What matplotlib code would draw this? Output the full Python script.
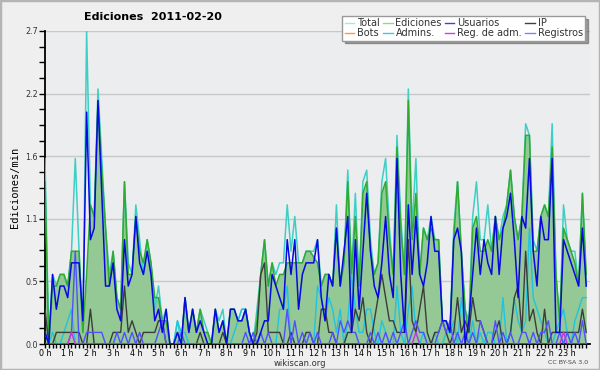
import numpy as np
import matplotlib
matplotlib.use("Agg")
import matplotlib.pyplot as plt
from matplotlib.lines import Line2D
from matplotlib.patches import Rectangle

# edits per minute, 10-minute bins (6 per hour, 144 per day)
total = [
    1.6, 0.0, 0.6, 0.5, 0.6, 0.6,  0.5, 0.8, 1.6, 0.8, 0.1, 2.7,
    1.2, 1.1, 2.2, 1.6, 1.0, 0.6,  0.8, 0.4, 0.3, 1.4, 0.7, 0.6,
    1.2, 0.9, 0.6, 0.9, 0.7, 0.3,  0.5, 0.2, 0.3, 0.0, 0.0, 0.2,
    0.0, 0.4, 0.1, 0.3, 0.1, 0.3,  0.2, 0.1, 0.0, 0.3, 0.2, 0.3,
    0.0, 0.3, 0.3, 0.2, 0.3, 0.3,  0.1, 0.0, 0.3, 0.6, 0.9, 0.5,
    0.7, 0.6, 0.7, 0.7, 1.2, 0.8,  1.1, 0.7, 0.7, 0.8, 0.8, 0.8,
    0.9, 0.5, 0.6, 0.6, 0.5, 1.2,  0.5, 0.7, 1.5, 0.6, 1.3, 0.5,
    1.4, 1.5, 0.9, 0.6, 0.7, 1.4,  1.6, 1.0, 0.6, 1.8, 1.1, 0.6,
    2.2, 1.0, 1.6, 0.6, 1.0, 0.9,  1.1, 0.9, 0.9, 0.2, 0.2, 0.1,
    1.0, 1.4, 0.8, 0.3, 0.2, 1.1,  1.4, 0.9, 0.9, 1.2, 0.8, 1.1,
    0.9, 1.1, 1.2, 1.5, 1.1, 0.9,  1.1, 1.9, 1.8, 0.9, 0.8, 1.1,
    1.2, 1.1, 1.9, 0.6, 0.2, 1.2,  0.9, 0.8, 0.8, 0.5, 1.3, 0.5,
]
ediciones = [
    1.4, 0.0, 0.5, 0.5, 0.6, 0.6,  0.5, 0.8, 0.8, 0.8, 0.1, 0.6,
    1.2, 1.1, 2.1, 1.5, 1.0, 0.5,  0.8, 0.4, 0.3, 1.4, 0.6, 0.6,
    1.1, 0.8, 0.7, 0.9, 0.7, 0.4,  0.4, 0.2, 0.2, 0.0, 0.0, 0.1,
    0.0, 0.4, 0.1, 0.3, 0.1, 0.3,  0.1, 0.1, 0.0, 0.3, 0.1, 0.2,
    0.0, 0.3, 0.3, 0.2, 0.2, 0.3,  0.1, 0.0, 0.2, 0.6, 0.9, 0.5,
    0.7, 0.5, 0.6, 0.6, 0.7, 0.7,  0.7, 0.7, 0.7, 0.8, 0.8, 0.75,
    0.7, 0.5, 0.6, 0.6, 0.5, 1.0,  0.5, 0.7, 1.4, 0.6, 1.1, 0.5,
    1.3, 1.4, 0.8, 0.6, 0.7, 1.3,  1.4, 0.9, 0.6, 1.7, 1.0, 0.6,
    2.1, 0.9, 1.3, 0.6, 1.0, 0.9,  1.0, 0.9, 0.9, 0.2, 0.2, 0.1,
    0.9, 1.4, 0.8, 0.3, 0.1, 1.0,  1.1, 0.8, 0.8, 0.9, 0.8, 1.1,
    0.9, 1.0, 1.2, 1.5, 1.1, 0.9,  1.1, 1.8, 1.8, 0.8, 0.8, 1.1,
    1.2, 1.1, 1.7, 0.6, 0.2, 1.0,  0.9, 0.8, 0.7, 0.5, 1.3, 0.6,
]
usuarios = [
    0.1, 0.0, 0.6, 0.3, 0.5, 0.5,  0.4, 0.7, 0.7, 0.7, 0.2, 2.0,
    0.9, 1.0, 2.1, 1.3, 0.5, 0.5,  0.7, 0.3, 0.2, 0.9, 0.5, 0.6,
    1.1, 0.7, 0.6, 0.8, 0.6, 0.2,  0.3, 0.1, 0.3, 0.0, 0.0, 0.1,
    0.0, 0.4, 0.1, 0.3, 0.1, 0.2,  0.1, 0.0, 0.0, 0.3, 0.1, 0.2,
    0.0, 0.3, 0.3, 0.2, 0.2, 0.3,  0.1, 0.0, 0.0, 0.1, 0.2, 0.2,
    0.6, 0.5, 0.4, 0.3, 0.9, 0.6,  0.9, 0.3, 0.6, 0.7, 0.7, 0.7,
    0.9, 0.4, 0.2, 0.6, 0.5, 1.0,  0.5, 0.8, 1.1, 0.1, 0.9, 0.3,
    0.8, 1.3, 0.8, 0.5, 0.4, 0.7,  1.1, 0.6, 0.4, 1.6, 0.6, 0.1,
    1.2, 0.6, 1.1, 0.6, 0.5, 0.7,  1.1, 0.8, 0.8, 0.2, 0.2, 0.1,
    0.9, 1.0, 0.8, 0.0, 0.2, 0.6,  1.0, 0.6, 0.9, 0.7, 0.6, 1.1,
    0.6, 1.0, 1.1, 1.3, 0.9, 0.4,  1.1, 1.0, 1.6, 0.8, 0.5, 1.1,
    0.9, 0.9, 1.6, 0.1, 0.1, 0.9,  0.8, 0.7, 0.6, 0.5, 1.0, 0.5,
]
ip = [
    0.3, 0.0, 0.0, 0.1, 0.1, 0.1,  0.1, 0.1, 0.1, 0.1, 0.0, 0.0,
    0.3, 0.0, 0.0, 0.0, 0.0, 0.0,  0.1, 0.1, 0.1, 0.5, 0.1, 0.2,
    0.1, 0.0, 0.1, 0.1, 0.1, 0.1,  0.2, 0.2, 0.0, 0.0, 0.0, 0.0,
    0.0, 0.0, 0.0, 0.0, 0.0, 0.1,  0.0, 0.0, 0.0, 0.0, 0.0, 0.1,
    0.0, 0.0, 0.0, 0.0, 0.0, 0.0,  0.0, 0.0, 0.1, 0.6, 0.7, 0.1,
    0.1, 0.1, 0.1, 0.0, 0.0, 0.1,  0.0, 0.0, 0.0, 0.1, 0.1, 0.0,
    0.0, 0.3, 0.3, 0.1, 0.1, 0.0,  0.0, 0.0, 0.1, 0.1, 0.3, 0.2,
    0.4, 0.1, 0.0, 0.2, 0.4, 0.6,  0.4, 0.2, 0.2, 0.1, 0.1, 0.1,
    0.9, 0.2, 0.1, 0.3, 0.5, 0.1,  0.0, 0.1, 0.1, 0.2, 0.1, 0.0,
    0.1, 0.4, 0.1, 0.2, 0.1, 0.4,  0.2, 0.2, 0.1, 0.0, 0.0, 0.1,
    0.2, 0.0, 0.0, 0.1, 0.4, 0.5,  0.1, 0.8, 0.2, 0.3, 0.1, 0.0,
    0.3, 0.0, 0.1, 0.1, 0.1, 0.1,  0.1, 0.1, 0.1, 0.1, 0.3, 0.1,
]
bots = [0.0] * 144
admins = [
    0.1, 0.0, 0.1, 0.0, 0.0, 0.1,  0.2, 0.3, 0.0, 0.0, 0.0, 0.0,
    0.0, 0.0, 0.0, 0.0, 0.0, 0.0,  0.0, 0.0, 0.0, 0.0, 0.0, 0.0,
    0.0, 0.0, 0.0, 0.0, 0.0, 0.0,  0.0, 0.0, 0.0, 0.0, 0.0, 0.2,
    0.1, 0.1, 0.0, 0.0, 0.0, 0.0,  0.0, 0.0, 0.0, 0.0, 0.0, 0.0,
    0.0, 0.0, 0.1, 0.2, 0.3, 0.3,  0.1, 0.0, 0.0, 0.0, 0.0, 0.0,
    0.0, 0.0, 0.3, 0.3, 0.5, 0.0,  0.0, 0.0, 0.0, 0.0, 0.0, 0.0,
    0.5, 0.4, 0.2, 0.4, 0.3, 0.1,  0.3, 0.0, 0.2, 0.6, 0.3, 0.1,
    0.1, 0.3, 0.3, 0.1, 0.0, 0.2,  0.1, 0.0, 0.0, 0.5, 0.1, 0.0,
    0.3, 0.5, 0.1, 0.0, 0.1, 0.0,  0.0, 0.1, 0.0, 0.0, 0.1, 0.1,
    0.2, 0.0, 0.4, 0.1, 0.0, 0.2,  0.0, 0.1, 0.0, 0.1, 0.1, 0.0,
    0.0, 0.4, 0.0, 0.1, 0.4, 0.2,  0.1, 0.2, 1.0, 0.4, 0.3, 0.2,
    0.1, 0.0, 0.0, 0.1, 0.2, 0.3,  0.1, 0.0, 0.2, 0.3, 0.4, 0.4,
]
reg_adm = [0.0] * 144
reg_adm[7] = 0.1
reg_adm[98] = 0.1
reg_adm[137] = 0.1
registros = [
    0.1, 0.0, 0.0, 0.0, 0.0, 0.0,  0.0, 0.1, 0.8, 0.0, 0.0, 0.1,
    0.1, 0.1, 0.1, 0.1, 0.0, 0.0,  0.0, 0.1, 0.0, 0.1, 0.0, 0.1,
    0.0, 0.1, 0.0, 0.0, 0.0, 0.0,  0.1, 0.2, 0.0, 0.0, 0.0, 0.0,
    0.1, 0.0, 0.0, 0.0, 0.0, 0.0,  0.0, 0.0, 0.0, 0.0, 0.0, 0.0,
    0.0, 0.0, 0.0, 0.0, 0.0, 0.1,  0.0, 0.1, 0.0, 0.1, 0.0, 0.1,
    0.0, 0.0, 0.0, 0.0, 0.3, 0.0,  0.2, 0.0, 0.1, 0.0, 0.1, 0.0,
    0.1, 0.0, 0.0, 0.0, 0.1, 0.0,  0.2, 0.1, 0.2, 0.1, 0.1, 0.0,
    0.0, 0.0, 0.1, 0.0, 0.1, 0.0,  0.1, 0.0, 0.1, 0.0, 0.1, 0.2,
    0.0, 0.1, 0.2, 0.1, 0.1, 0.0,  0.0, 0.0, 0.1, 0.2, 0.1, 0.2,
    0.0, 0.1, 0.0, 0.1, 0.0, 0.1,  0.0, 0.2, 0.1, 0.0, 0.0, 0.2,
    0.0, 0.1, 0.0, 0.1, 0.0, 0.0,  0.1, 0.1, 0.0, 0.1, 0.0, 0.1,
    0.1, 0.2, 0.0, 0.0, 0.1, 0.0,  0.1, 0.0, 0.1, 0.0, 0.2, 0.0,
]
hour_labels = [f"{h} h" for h in range(24)]

hours = np.arange(144) / 6.0

fig = plt.figure(figsize=(6, 3.7), dpi=100, facecolor='#efefef')
fig.patches.append(Rectangle((0, 0), 1, 1, transform=fig.transFigure,
                             fill=False, edgecolor='#b4b4b4', lw=2.5))
ax = fig.add_axes([45 / 600, 26 / 370, 545 / 600, 313 / 370])
ax.set_facecolor('#ecedef')

# --- series ---
ax.fill_between(hours, ediciones, 0, color='#94c894', lw=0, zorder=2)
ax.plot(hours, total, color='#3ccfc4', lw=1.1, zorder=3)
ax.plot(hours, ediciones, color='#30aa30', lw=1.1, zorder=3)
ax.plot(hours, admins, color='#20c4e0', lw=1.0, zorder=4)
ax.plot(hours, ip, color='#3c3c3c', lw=1.0, zorder=4)
ax.plot(hours, registros, color='#5050ff', lw=1.0, zorder=4)
ax.plot(hours, reg_adm, color='#cc30e0', lw=1.0, zorder=4)
ax.plot(hours, usuarios, color='#0808e0', lw=1.1, zorder=5)

# --- axes ---
ax.set_xlim(0, 24)
ax.set_ylim(0, 2.7)
ax.set_xticks(range(24))
ax.set_xticklabels(hour_labels, fontsize=5.8)
ax.set_xticks(np.arange(0, 24, 1 / 6), minor=True)
yt = np.linspace(0, 2.7, 6)
ax.set_yticks(yt)
ax.set_yticklabels([f"{v:.1f}" for v in yt], fontsize=5.8, color='#333333')
ax.set_yticks(np.linspace(0, 2.7, 21), minor=True)
ax.tick_params(axis='x', which='both', direction='out', length=3, width=1, pad=0.5)
ax.tick_params(axis='y', which='both', direction='out', length=4, width=1, pad=1)
ax.grid(axis='y', which='major', color='#c8c8c8', lw=1)
ax.set_axisbelow(True)
for s in ('top', 'right'):
    ax.spines[s].set_visible(False)
ax.spines['left'].set_linewidth(1.3)
ax.spines['bottom'].set_linewidth(1.3)
ax.set_ylabel("Ediciones/min", fontsize=7.5, family='DejaVu Sans Mono', labelpad=4)

fig.text(153 / 600, 1 - 17 / 370, "Ediciones  2011-02-20", ha='center', va='center',
         fontsize=8, fontweight='bold')
fig.text(300 / 600, 1 - 363 / 370, "wikiscan.org", ha='center', va='center',
         fontsize=6, color='#333333')
fig.text(588 / 600, 1 - 363 / 370, "CC BY-SA 3.0", ha='right', va='center',
         fontsize=4.5, color='#444444')

handles = [
    Line2D([], [], color='#a8e6e0', lw=1), Line2D([], [], color='#f0a040', lw=1),
    Line2D([], [], color='#90d890', lw=1), Line2D([], [], color='#40c8e0', lw=1),
    Line2D([], [], color='#4040e0', lw=1), Line2D([], [], color='#d040e0', lw=1),
    Line2D([], [], color='#404040', lw=1), Line2D([], [], color='#8080f0', lw=1),
]
labels = ["Total", "Bots", "Ediciones", "Admins.", "Usuarios", "Reg. de adm.", "IP", "Registros"]
leg = fig.legend(handles, labels, ncol=4, loc='upper right',
                 bbox_to_anchor=(590 / 600, 1 - 11 / 370), fontsize=7,
                 handlelength=1.0, handletextpad=0.3, columnspacing=0.3,
                 labelspacing=0.0, borderpad=0.25, fancybox=False, shadow=True,
                 framealpha=1, edgecolor='#999999')
leg.get_frame().set_linewidth(1)
for t in leg.get_texts():
    t.set_color('#333333')

fig.savefig("out.png", dpi=100, facecolor=fig.get_facecolor())
